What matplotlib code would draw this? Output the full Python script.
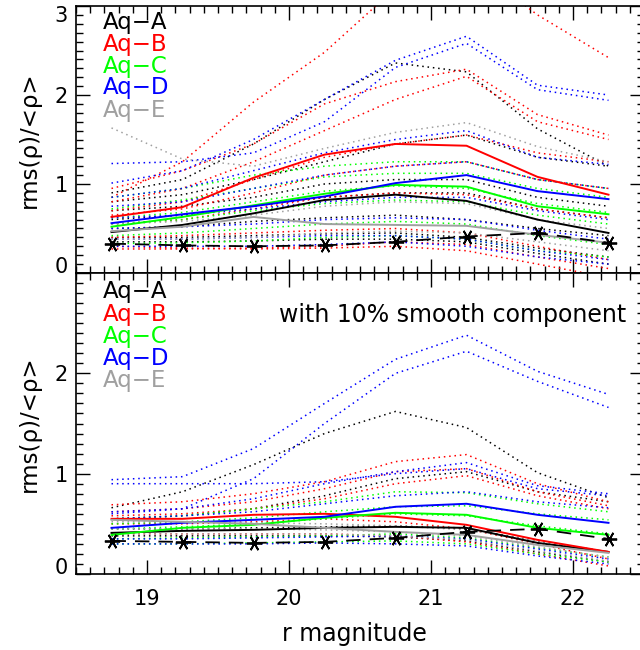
import matplotlib.pyplot as plt
from matplotlib.ticker import MultipleLocator

# magnitude bins
mag = [18.75, 19.25, 19.75, 20.25, 20.75, 21.25, 21.75, 22.25]

# observed points (dashed + asterisks)
obs_top = [0.33, 0.31, 0.30, 0.31, 0.35, 0.41, 0.45, 0.34]
obs_bot = [0.33, 0.32, 0.31, 0.32, 0.36, 0.42, 0.45, 0.35]

# ---- top panel: mean curves (solid) ----
top_A = [0.46, 0.54, 0.67, 0.82, 0.88, 0.81, 0.60, 0.45]
top_B = [0.63, 0.74, 1.07, 1.33, 1.45, 1.43, 1.08, 0.88]
top_C = [0.52, 0.63, 0.76, 0.89, 0.99, 0.97, 0.75, 0.66]
top_D = [0.56, 0.66, 0.75, 0.86, 1.01, 1.10, 0.92, 0.83]
top_E = [0.47, 0.52, 0.63, 0.55, 0.54, 0.53, 0.43, 0.34]

# ---- top panel: individual fields (dotted) ----
top_A_dot = [
    [0.90, 1.05, 1.45, 1.95, 2.36, 2.26, 1.62, 1.20],
    [0.80, 0.88, 1.05, 1.25, 1.45, 1.55, 1.30, 1.20],
    [0.70, 0.75, 0.85, 1.00, 1.05, 1.05, 0.85, 0.75],
    [0.60, 0.65, 0.75, 0.85, 0.90, 0.90, 0.72, 0.62],
    [0.50, 0.52, 0.58, 0.62, 0.65, 0.60, 0.50, 0.42],
    [0.40, 0.40, 0.42, 0.44, 0.45, 0.40, 0.28, 0.18],
    [0.35, 0.35, 0.36, 0.38, 0.38, 0.35, 0.22, 0.10],
]
top_B_dot = [
    [0.85, 1.25, 1.92, 2.48, 3.20, 3.50, 2.90, 2.42],
    [0.95, 1.15, 1.45, 1.90, 2.15, 2.29, 1.78, 1.55],
    [0.80, 0.95, 1.25, 1.60, 1.95, 2.21, 1.70, 1.50],
    [0.70, 0.80, 1.05, 1.30, 1.45, 1.55, 1.35, 1.25],
    [0.65, 0.72, 0.90, 1.10, 1.20, 1.25, 1.05, 0.95],
    [0.55, 0.60, 0.72, 0.85, 0.90, 0.88, 0.72, 0.62],
    [0.40, 0.42, 0.45, 0.48, 0.50, 0.45, 0.30, 0.15],
    [0.27, 0.27, 0.28, 0.30, 0.35, 0.32, 0.18, 0.05],
    [0.30, 0.28, 0.27, 0.28, 0.30, 0.25, 0.10, -0.05],
]
top_C_dot = [
    [0.85, 0.95, 1.10, 1.20, 1.25, 1.25, 1.05, 0.95],
    [0.72, 0.82, 0.95, 1.08, 1.12, 1.12, 0.95, 0.85],
    [0.62, 0.68, 0.80, 0.92, 0.98, 0.95, 0.78, 0.68],
    [0.55, 0.60, 0.70, 0.78, 0.82, 0.80, 0.65, 0.55],
    [0.42, 0.45, 0.50, 0.55, 0.58, 0.55, 0.42, 0.32],
    [0.33, 0.34, 0.36, 0.40, 0.42, 0.38, 0.25, 0.18],
]
top_D_dot = [
    [1.01, 1.15, 1.50, 1.95, 2.39, 2.66, 2.11, 2.00],
    [1.23, 1.25, 1.35, 1.70, 2.31, 2.58, 2.06, 1.94],
    [0.85, 0.95, 1.15, 1.35, 1.50, 1.60, 1.30, 1.22],
    [0.75, 0.80, 0.95, 1.10, 1.20, 1.25, 1.05, 0.95],
    [0.62, 0.65, 0.72, 0.80, 0.85, 0.85, 0.70, 0.60],
    [0.50, 0.52, 0.55, 0.60, 0.62, 0.60, 0.48, 0.38],
    [0.38, 0.38, 0.40, 0.42, 0.42, 0.38, 0.25, 0.15],
    [0.30, 0.30, 0.30, 0.32, 0.35, 0.30, 0.18, 0.10],
]
top_E_dot = [
    [1.63, 1.28, 1.20, 1.40, 1.58, 1.69, 1.42, 1.25],
    [0.55, 0.58, 0.65, 0.75, 0.80, 0.78, 0.60, 0.50],
    [0.38, 0.38, 0.40, 0.45, 0.47, 0.45, 0.35, 0.25],
]

# ---- bottom panel (with 10% smooth component) ----
bot_A = [0.41, 0.43, 0.44, 0.46, 0.47, 0.46, 0.31, 0.22]
bot_B = [0.55, 0.55, 0.59, 0.60, 0.57, 0.49, 0.34, 0.22]
bot_C = [0.39, 0.46, 0.49, 0.56, 0.61, 0.59, 0.46, 0.39]
bot_D = [0.46, 0.51, 0.54, 0.57, 0.67, 0.70, 0.59, 0.51]
bot_E = [0.54, 0.52, 0.50, 0.46, 0.42, 0.39, 0.29, 0.21]

bot_A_dot = [
    [0.66, 0.82, 1.09, 1.40, 1.62, 1.46, 1.01, 0.76],
    [0.55, 0.58, 0.65, 0.78, 0.95, 1.02, 0.82, 0.72],
    [0.45, 0.45, 0.46, 0.47, 0.48, 0.45, 0.33, 0.22],
    [0.38, 0.38, 0.38, 0.38, 0.37, 0.33, 0.22, 0.12],
]
bot_B_dot = [
    [0.69, 0.72, 0.80, 0.92, 1.12, 1.19, 0.90, 0.72],
    [0.62, 0.65, 0.72, 0.85, 1.02, 1.05, 0.82, 0.68],
    [0.58, 0.60, 0.65, 0.75, 0.90, 0.98, 0.78, 0.65],
    [0.50, 0.50, 0.52, 0.55, 0.52, 0.45, 0.30, 0.15],
    [0.40, 0.40, 0.40, 0.40, 0.38, 0.32, 0.20, 0.08],
]
bot_C_dot = [
    [0.55, 0.58, 0.65, 0.72, 0.82, 0.81, 0.70, 0.62],
    [0.50, 0.52, 0.56, 0.62, 0.67, 0.68, 0.60, 0.54],
    [0.45, 0.47, 0.50, 0.55, 0.60, 0.58, 0.48, 0.40],
    [0.35, 0.36, 0.37, 0.38, 0.40, 0.36, 0.26, 0.17],
    [0.30, 0.30, 0.31, 0.32, 0.33, 0.30, 0.20, 0.12],
]
bot_D_dot = [
    [0.94, 0.97, 1.25, 1.70, 2.14, 2.38, 2.02, 1.79],
    [0.62, 0.65, 0.95, 1.50, 2.00, 2.22, 1.92, 1.66],
    [0.90, 0.90, 0.90, 0.92, 1.00, 1.05, 0.85, 0.78],
    [0.60, 0.65, 0.75, 0.90, 1.02, 1.11, 0.88, 0.80],
    [0.55, 0.58, 0.62, 0.70, 0.78, 0.82, 0.72, 0.66],
    [0.35, 0.35, 0.36, 0.37, 0.38, 0.35, 0.25, 0.15],
    [0.30, 0.30, 0.30, 0.31, 0.30, 0.28, 0.18, 0.10],
]
bot_E_dot = [
    [0.52, 0.52, 0.51, 0.50, 0.48, 0.44, 0.33, 0.22],
    [0.45, 0.45, 0.45, 0.44, 0.42, 0.38, 0.27, 0.17],
    [0.40, 0.40, 0.40, 0.40, 0.38, 0.34, 0.23, 0.13],
]

names = ['Aq\u2212A', 'Aq\u2212B', 'Aq\u2212C', 'Aq\u2212D', 'Aq\u2212E']
colors = ['black', '#ff0000', '#00ff00', '#0000ff', '#a0a0a0']

plt.rcParams['font.family'] = ['DejaVu Sans']
plt.rcParams['font.size'] = 15

fig = plt.figure(figsize=(6.4, 6.5), dpi=100)
ax1 = fig.add_axes([76/640, 1-273/650, 568/640, 267/650])
ax2 = fig.add_axes([76/640, 1-574/650, 568/640, 301/650])

panels = [
    (ax1, [top_A, top_B, top_C, top_D, top_E],
     [top_A_dot, top_B_dot, top_C_dot, top_D_dot, top_E_dot], obs_top),
    (ax2, [bot_A, bot_B, bot_C, bot_D, bot_E],
     [bot_A_dot, bot_B_dot, bot_C_dot, bot_D_dot, bot_E_dot], obs_bot),
]

for ax, means, dots, obs in panels:
    for dset, c in zip(dots, colors):
        for d in dset:
            ax.plot(mag, d, color=c, lw=1.1, linestyle=(0, (1, 2.5)))
    for m, c in zip(means, colors):
        ax.plot(mag, m, color=c, lw=1.4)
    ax.plot(mag, obs, color='black', lw=1.3, dashes=(8, 5),
            marker=(6, 2, 90), ms=11, mew=1.3)

    ax.xaxis.set_major_locator(MultipleLocator(1))
    ax.xaxis.set_minor_locator(MultipleLocator(0.1))
    ax.yaxis.set_minor_locator(MultipleLocator(0.1))
    ax.tick_params(which='both', direction='in', top=True, right=True, width=1)
    ax.tick_params(which='major', length=10)
    ax.tick_params(which='minor', length=5)
    ax.tick_params(axis='y', pad=6)
    ax.tick_params(axis='x', pad=11)
    for s in ax.spines.values():
        s.set_linewidth(1.2)
    ax.set_ylabel('rms(\u03c1)/<\u03c1>', fontsize=16.5)
    ax.yaxis.set_label_coords(-0.062, 0.5)

ax1.set_xticklabels([])
ax1.set_yticks([0, 1, 2, 3], ['0', '1', '2', '3'])
ax2.set_yticks([0, 1, 2, 3], ['0', '1', '2', ''])
for ax in (ax1, ax2):
    ax.set_xlim(18.5, 22.5)
    ax.set_ylim(0, 3)
ax1.get_yticklabels()[0].set_va('baseline')
ax1.get_yticklabels()[3].set_va('top')
ax2.get_yticklabels()[0].set_va('baseline')
ax2.set_xlabel('r magnitude', fontsize=17)
ax2.xaxis.set_label_coords(0.49, -0.16)

top_ys = [0.94, 0.855, 0.773, 0.693, 0.61]
bot_ys = [0.937, 0.862, 0.789, 0.716, 0.643]
for name, c, ty, by in zip(names, colors, top_ys, bot_ys):
    ax1.text(0.047, ty, name, color=c, transform=ax1.transAxes,
             va='center', ha='left', fontsize=16.5)
    ax2.text(0.047, by, name, color=c, transform=ax2.transAxes,
             va='center', ha='left', fontsize=16.5)

ax2.text(0.968, 0.862, 'with 10% smooth component', transform=ax2.transAxes,
         va='center', ha='right', fontsize=17)

fig.savefig('out.png', dpi=100)
